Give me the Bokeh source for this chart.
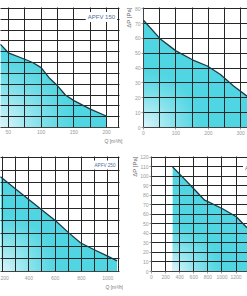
import numpy as np
from bokeh.plotting import figure
from bokeh.layouts import column, row
from bokeh.models import FixedTicker, Grid, Label, Title
from bokeh.embed import file_html
from bokeh.resources import INLINE

# ---- data (Q [m3/h], dP [Pa]) ----
tl_name = "APFV 150"
tl_q = [38, 50, 75, 87, 100, 112, 125, 137, 150, 175, 200]
tl_dp = [76.8, 69, 63, 60, 55.3, 46, 38.5, 30, 24.8, 17, 10.4]

tr_name = "APFV 200"
tr_q = [0, 51, 100, 151, 197, 237.5, 278, 321]
tr_dp = [72.2, 59.8, 51.6, 45.6, 41.4, 35.7, 28.0, 20.9]

bl_name = "APFV 250"
bl_q = [185, 300, 400, 500, 603, 704, 792, 893, 995, 1071]
bl_dp = [74.8, 65.2, 56.9, 48.6, 40, 30.5, 22.7, 17.4, 12.3, 8.4]

br_name = "APFV 315"
br_q = [300, 400, 600, 754, 800, 1014, 1203, 1355]
br_dp = [110, 102.5, 87, 75, 73.5, 65.8, 57.6, 46]

tl_xticks = [50, 100, 150, 200]
tr_xticks = [0, 100, 200, 300]
tr_yticks = [0, 10, 20, 30, 40, 50, 60, 70, 80]
bl_xticks = [200, 400, 600, 800, 1000]
br_xticks = [0, 200, 400, 600, 800, 1000, 1200, 1400]
br_yticks = [0, 10, 20, 30, 40, 50, 60, 70, 80, 90, 100, 110, 120]

FILL = "#4fd6e2"
LINE = "#1d3a44"
GRID = "#262626"
TICK = "#9a9a9a"
FONT = "Liberation Sans"


def grad_image(x0, x1, y0, y1, fw, fh, q, dp, ox, oy, R):
    xs = x0 + (np.arange(fw) + 0.5) * (x1 - x0) / fw
    ys = y0 + (np.arange(fh) + 0.5) * (y1 - y0) / fh
    X, Y = np.meshgrid(xs, ys)
    dxp = (X - ox) / (x1 - x0) * fw
    dyp = (Y - oy) / (y1 - y0) * fh
    d = np.hypot(dxp, dyp)
    a = np.clip(1 - d / R, 0, 1) ** 1.3
    curve = np.interp(xs, q, dp, left=-1, right=-1)
    mask = (Y < curve[None, :]) & (X >= q[0]) & (X <= q[-1])
    a = a * mask * 0.93
    img = np.zeros((fh, fw), dtype=np.uint32)
    v = img.view(dtype=np.uint8).reshape((fh, fw, 4))
    v[..., 0] = 234
    v[..., 1] = 248
    v[..., 2] = 253
    v[..., 3] = (a * 255).astype(np.uint8)
    return img


def panel(w, h, xr, yr, bl, br, bt, bb, q, dp, gx, gy, tx, ty, show_y,
          ox, oy, R, xstand, xtick_out):
    fw = w - bl - br
    fh = h - bt - bb
    p = figure(width=w, height=h, x_range=xr, y_range=yr,
               output_backend="svg", toolbar_location=None,
               y_axis_location="left" if show_y else None,
               min_border_left=bl, min_border_right=br,
               min_border_top=bt, min_border_bottom=bb)
    p.outline_line_color = None
    p.background_fill_color = "white"
    p.border_fill_color = "white"
    p.varea(x=q, y1=0, y2=dp, fill_color=FILL)
    img = grad_image(xr[0], xr[1], yr[0], yr[1], fw, fh, q, dp, ox, oy, R)
    p.image_rgba(image=[img], x=xr[0], y=yr[0], dw=xr[1] - xr[0], dh=yr[1] - yr[0])
    ln = p.line(q, dp, line_color=LINE, line_width=1.3)
    ln.level = "overlay"
    for ax in p.xaxis:
        ax.ticker = FixedTicker(ticks=tx, minor_ticks=[])
        ax.axis_line_color = "#444"
        ax.major_tick_line_color = TICK
        ax.major_tick_out = xtick_out
        ax.major_tick_in = 0
        ax.major_label_standoff = xstand
        ax.major_label_text_font_size = "5px"
        ax.major_label_text_color = TICK
        ax.major_label_text_font = FONT
    if show_y:
        for ax in p.yaxis:
            ax.ticker = FixedTicker(ticks=ty, minor_ticks=[])
            ax.axis_line_color = "#444"
            ax.major_tick_line_color = TICK
            ax.major_tick_out = 2
            ax.major_tick_in = 0
            ax.major_label_standoff = 1
            ax.major_label_text_font_size = "5px"
            ax.major_label_text_color = TICK
            ax.major_label_text_font = FONT
    for g in list(p.xgrid):
        g.ticker = FixedTicker(ticks=gx, minor_ticks=[])
        g.grid_line_color = GRID
        g.grid_line_width = 1
        g.level = "guide"
    if len(p.ygrid) == 0:
        p.add_layout(Grid(dimension=1, ticker=FixedTicker(ticks=gy, minor_ticks=[]),
                          grid_line_color=GRID, grid_line_width=1, level="guide"))
    else:
        for g in list(p.ygrid):
            g.ticker = FixedTicker(ticks=gy, minor_ticks=[])
            g.grid_line_color = GRID
            g.grid_line_width = 1
            g.level = "guide"
    return p


def legend_label(p, x, y, text, size):
    p.add_layout(Label(x=x, y=y, text=text, text_font=FONT, text_font_size=size,
                       text_color="#4d6c9c", text_align="left", text_baseline="middle",
                       background_fill_color="white", padding=2))


def q_label(p, offset, standoff):
    p.add_layout(Title(text="Q [m\u00b3/h]", align="right", text_font=FONT,
                       text_font_size="5px", text_font_style="normal",
                       text_color="#777", standoff=standoff, offset=offset), "below")


def dp_label(p):
    p.add_layout(Title(text="\u0394P [Pa]", align="right", text_font=FONT,
                       text_font_size="6px", text_font_style="normal",
                       text_color="#666", standoff=0), "left")


# top-left: APFV 150
tl = panel(123, 148, (38, 219.5), (0, 110.8), 0, 4, 7, 21, tl_q, tl_dp,
           [50, 75, 100, 125, 150, 175, 200, 218], list(range(0, 111, 10)),
           tl_xticks, None, False, 38, 0, 75, 2, 0)
legend_label(tl, 168, 102, tl_name, "6px")
q_label(tl, -3, -2)

# top-right: APFV 200
tr = panel(124, 148, (0, 321), (0, 80.8), 19, 0, 7, 20, tr_q, tr_dp,
           [0, 50, 100, 150, 200, 250, 300], tr_yticks,
           tr_xticks, tr_yticks, True, 0, 0, 60, 1, 2)
dp_label(tr)

# bottom-left: APFV 250
bl = panel(123, 148, (185, 1089), (0, 90.8), 0, 4, 8, 25, bl_q, bl_dp,
           [200, 300, 400, 500, 600, 700, 800, 900, 1000, 1082], list(range(0, 91, 10)),
           bl_xticks, None, False, 185, 0, 60, 4, 0)
legend_label(bl, 884, 84, bl_name, "4.6px")
q_label(bl, -4, -1)

# bottom-right: APFV 315
br = panel(124, 148, (0, 1362), (0, 121), 28, 0, 5, 21, br_q, br_dp,
           br_xticks, br_yticks, br_xticks, br_yticks, True, 300, 0, 50, 1, 2)
legend_label(br, 1298, 109.4, br_name, "6px")
dp_label(br)

layout = column(row(tl, tr), row(bl, br))
open("out.html", "w").write(file_html(layout, INLINE))
